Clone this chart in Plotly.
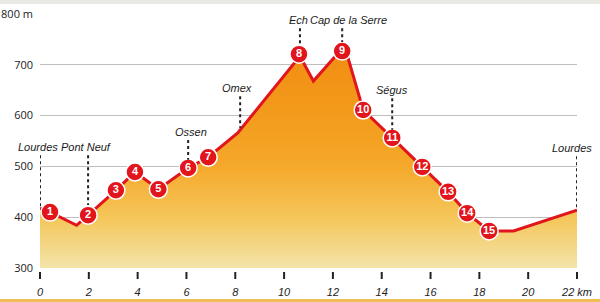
import plotly.graph_objects as go

# ---- data ----
profile_km = [0, 0.41, 1.5, 1.97, 3.11, 3.89, 4.85, 6.07, 6.89, 8.1, 10.65, 11.2, 12.1, 12.6,
              13.24, 14.43, 15.66, 16.72, 17.5, 18.4, 19.4, 22]
profile_elev = [418, 410, 384, 404, 453, 489, 455, 497, 518, 566, 717, 668, 717, 717,
                611, 556, 499, 450, 408, 373, 373, 414]

stop_num = [str(i) for i in range(1, 16)]
stop_km = [0.41, 1.97, 3.11, 3.89, 4.85, 6.07, 6.89, 10.61, 12.38, 13.24, 14.43, 15.66, 16.72, 17.5, 18.4]
stop_elev = [410, 404, 453, 489, 455, 497, 518, 721, 727, 611, 556, 499, 450, 408, 373]

place_names = ["Lourdes", "Pont Neuf", "Ossen", "Omex", "Ech", "Cap de la Serre", "Ségus", "Lourdes"]
place_km = [0, 1.97, 6.07, 8.2, 10.65, 12.38, 14.43, 22]
place_label_elev = [538, 538, 568, 654, 788, 788, 650, 536]
place_tip_elev = [420, 424, 513, 576, 739, 745, 572, 418]
place_xshift = [-2, -2, 3, -3, -1, 6, 0, -5]

x_ticks = [0, 2, 4, 6, 8, 10, 12, 14, 16, 18, 20, 22]
x_ticktext = ["0", "2", "4", "6", "8", "10", "12", "14", "16", "18", "20", "22 km"]
y_ticks = [300, 400, 500, 600, 700, 800]
y_ticktext = ["300", "400", "500", "600", "700", "800 m"]

X_MIN, X_MAX = 0, 22
Y_MIN, Y_MAX = 300, 800
PLOT_H = 254  # px

RED = "#E2141C"
LABEL_FONT = "Liberation Sans, Arial, sans-serif"

fig = go.Figure()

# filled profile
fig.add_trace(go.Scatter(
    x=profile_km, y=profile_elev, mode="lines",
    line=dict(color=RED, width=3),
    fill="tozeroy",
    fillgradient=dict(type="vertical", start=Y_MIN, stop=730,
                      colorscale=[[0, "#F3E4AA"], [0.23, "#F5C65A"], [0.47, "#F5A82A"],
                                  [0.7, "#F39B1C"], [1, "#F18D12"]]),
    hoverinfo="skip", showlegend=False,
))

# dotted leader lines for places
for k, lab, tip in zip(place_km, place_label_elev, place_tip_elev):
    fig.add_shape(type="line", x0=k, x1=k, y0=lab - 16, y1=tip,
                  line=dict(color="#222222", width=2, dash="dot"), layer="above")

# numbered stops
fig.add_trace(go.Scatter(
    x=stop_km, y=stop_elev, mode="markers+text",
    text=stop_num, textposition="middle center",
    textfont=dict(color="white", size=11, family="Liberation Sans, Arial", weight="bold"),
    marker=dict(size=18, color=RED, line=dict(color="white", width=1.5)),
    hoverinfo="skip", showlegend=False, cliponaxis=False,
))

# x tick marks (below the axis with a small gap)
for t in x_ticks:
    xf = (t - X_MIN) / (X_MAX - X_MIN)
    fig.add_shape(type="line", xref="paper", yref="paper", x0=xf, x1=xf,
                  y0=-4 / PLOT_H, y1=-11 / PLOT_H, line=dict(color="#222222", width=2))

# place name labels
for name, k, lab, xs in zip(place_names, place_km, place_label_elev, place_xshift):
    fig.add_annotation(x=k, y=lab, text=f"<i>{name}</i>", showarrow=False,
                       xshift=xs, font=dict(family=LABEL_FONT, size=11, color="#1a1a1a"))

# scanned page edges
fig.add_shape(type="rect", xref="paper", yref="paper", x0=-0.1, x1=1.1,
              y0=1 + 10 / PLOT_H, y1=1 + 14 / PLOT_H, fillcolor="#E9E9E3", line_width=0, layer="below")
fig.add_shape(type="rect", xref="paper", yref="paper", x0=-0.1, x1=1.1,
              y0=-34 / PLOT_H, y1=-31 / PLOT_H, fillcolor="#F1BE55", line_width=0, layer="below")

fig.update_layout(
    width=600, height=302,
    margin=dict(l=40, r=23, t=14, b=34),
    paper_bgcolor="white", plot_bgcolor="white",
    xaxis=dict(range=[X_MIN, X_MAX], tickvals=x_ticks, ticktext=x_ticktext, showgrid=False,
               zeroline=False, showline=False, ticks="", ticklabelstandoff=16, automargin=False,
               tickfont=dict(family=LABEL_FONT, size=11, color="#222222", style="italic")),
    yaxis=dict(range=[Y_MIN, Y_MAX], tickvals=y_ticks, ticktext=y_ticktext, automargin=False,
               showgrid=True, gridcolor="#BEBEBE", gridwidth=1, zeroline=False,
               showline=False, ticks="", ticklabelstandoff=6,
               tickfont=dict(family="Open Sans, sans-serif", size=11, color="#222222")),
)

fig.write_html("out.html")
